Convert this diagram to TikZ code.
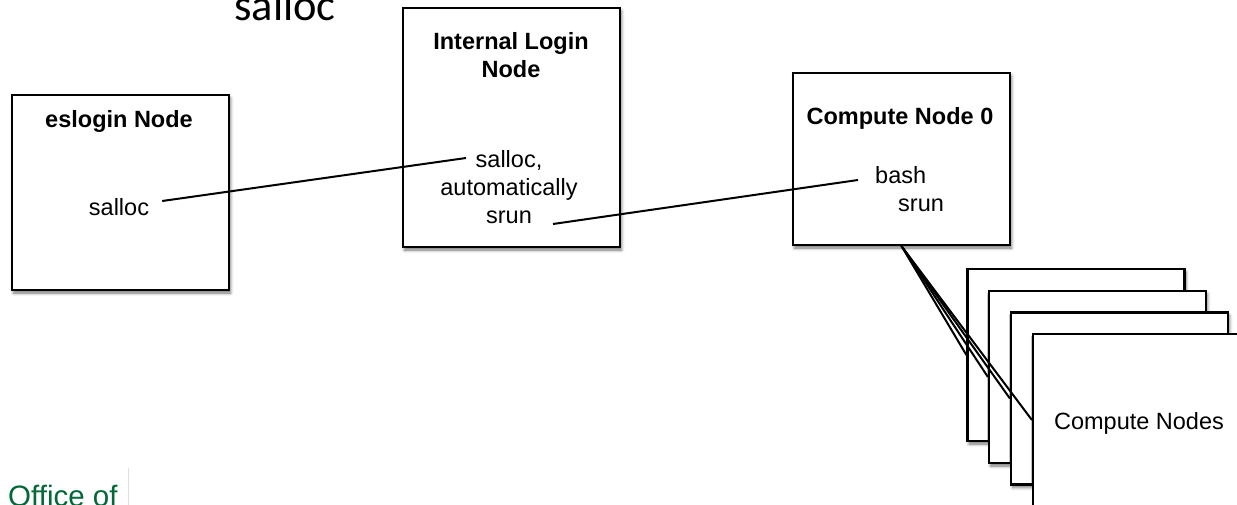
\documentclass[tikz,border=0pt]{standalone}
\usepackage{fontspec}
\setmainfont{Liberation Sans}
\newfontfamily\calibrifont{Carlito}
\usetikzlibrary{shadows.blur}
\definecolor{officegreen}{RGB}{0,105,55}
\begin{document}
\begin{tikzpicture}[x=1pt,y=-1pt,
  box/.style={draw=black, line width=2.2pt, fill=white, rectangle, inner sep=0pt,
    minimum width=217pt, minimum height=#1,
    blur shadow={shadow xshift=1.5pt, shadow yshift=-3pt, shadow blur radius=3pt, shadow opacity=55}},
  lbl/.style={inner sep=0pt, font=\fontsize{23.5}{28}\selectfont, align=center},
  ttl/.style={inner sep=0pt, font=\fontsize{23.5}{28}\selectfont\bfseries, align=center},
  wire/.style={draw=black, line width=2pt}
]
\useasboundingbox (0,0) rectangle (1237,505);
\clip (0,0) rectangle (1237,505);

% title
\node[inner sep=0pt, anchor=base, font=\calibrifont\fontsize{44.5}{50}\selectfont] (title) at (285,21) {salloc};

% boxes
\node[box=195pt] (esl) at (120.5,192.5) {};
\node[box=239pt] (ilog) at (511.5,127.5) {};
\node[box=172pt] (cn0) at (901.5,159) {};
\node[box=172pt] (c1) at (1076,355) {};
\node[box=172pt] (c2) at (1097.5,377) {};
\node[box=172pt] (c3) at (1119.5,398.5) {};
\node[box=172pt] (c4) at (1141.5,420) {};

% texts
\node[ttl, anchor=base] (eslt) at (119,128) {eslogin Node};
\node[lbl, anchor=base] (esls) at (119,216) {salloc};
\node[ttl, anchor=north] (ilogt) at (511,32) {Internal Login\\Node};
\node[lbl, anchor=north] (ilogs) at (509,150) {salloc,\\automatically\\srun};
\node[ttl, anchor=base] (cn0t) at (900,125) {Compute Node 0};
\node[lbl, anchor=north west, align=left] (cn0s) at (875,166) {bash\\\hspace{23pt}srun};
\node[lbl, anchor=base] (cnt) at (1139,429) {Compute Nodes};

% connectors
\draw[wire] ([shift={(13,-15)}]esls.base east) -- ([shift={(-43,8)}]ilogs.north);
\draw[wire] ([shift={(44,74)}]ilogs.north) -- ([shift={(-17,14)}]cn0s.north west);
\draw[wire] (cn0.south) -- (c1.west);
\draw[wire] (cn0.south) -- (c2.west);
\draw[wire] (cn0.south) -- (c3.west);
\draw[wire] (cn0.south) -- (c4.west);

% footer
\node[inner sep=0pt, anchor=base west, text=officegreen, font=\fontsize{29.5}{32}\selectfont] (office) at (8,506) {Office of};
\draw[black!12, line width=0.8pt] (128,468) -- (128,505);
\end{tikzpicture}
\end{document}
